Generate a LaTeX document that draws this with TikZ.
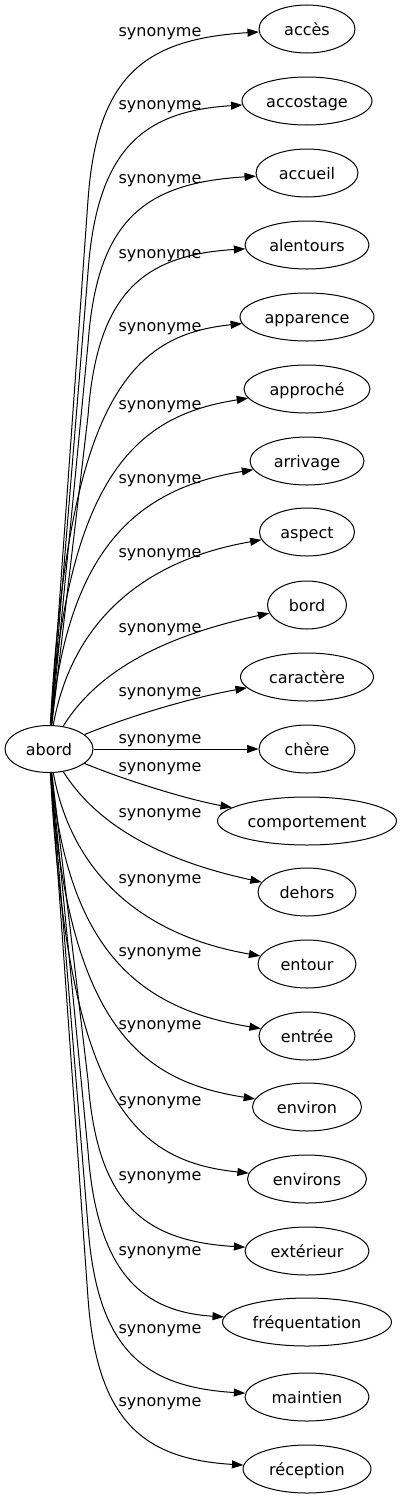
\documentclass[tikz,border=0pt]{standalone}
\usepackage{fontspec}
\setmainfont{DejaVu Sans}
\usetikzlibrary{shapes.geometric,arrows.meta}

\begin{document}
\begin{tikzpicture}[x=1pt, y=-1pt, every node/.style={font=\fontsize{16}{19}\selectfont, text height=12pt, text depth=0pt},
  term/.style={ellipse, draw, line width=1pt, minimum height=48pt, inner sep=0pt},
  syn/.style={line width=1pt, -{Triangle[length=11.4pt,width=8pt]}}]
\useasboundingbox (0,0) rectangle (402,1499);

\node[term, minimum width=88pt, minimum height=47pt] (abord) at (49,749) {abord};

\node[term, minimum width=96pt] (acces) at (307,29) {accès};
\node[term, minimum width=130pt] (accostage) at (307,101) {accostage};
\node[term, minimum width=102pt] (accueil) at (307,173) {accueil};
\node[term, minimum width=124pt] (alentours) at (307,245) {alentours};
\node[term, minimum width=134pt] (apparence) at (307,317) {apparence};
\node[term, minimum width=126pt] (approche) at (307,389) {approché};
\node[term, minimum width=114pt] (arrivage) at (307,461) {arrivage};
\node[term, minimum width=95pt] (aspect) at (307,532) {aspect};
\node[term, minimum width=79pt] (bord) at (307,605) {bord};
\node[term, minimum width=133pt] (caractere) at (307,677) {caractère};
\node[term, minimum width=96pt] (chere) at (307,749) {chère};
\node[term, minimum width=179pt] (comportement) at (307,821) {comportement};
\node[term, minimum width=98pt] (dehors) at (307,892) {dehors};
\node[term, minimum width=98pt] (entour) at (307,964) {entour};
\node[term, minimum width=96pt] (entree) at (307,1036) {entrée};
\node[term, minimum width=109pt] (environ) at (307,1107) {environ};
\node[term, minimum width=119pt] (environs) at (307,1179) {environs};
\node[term, minimum width=124pt] (exterieur) at (307,1251) {extérieur};
\node[term, minimum width=169pt] (frequentation) at (307,1322) {fréquentation};
\node[term, minimum width=124pt] (maintien) at (307,1397) {maintien};
\node[term, minimum width=128pt] (reception) at (307,1469) {réception};

% upper fan, long edges go straight up first
\draw[syn] (abord) -- (88,200) .. controls (97,75) and (145,39) .. (acces);
\draw[syn] (abord) -- (88,272) .. controls (97,147) and (145,111) .. (accostage);
\draw[syn] (abord) -- (88,344) .. controls (97,219) and (145,183) .. (accueil);
\draw[syn] (abord) -- (88,416) .. controls (97,291) and (145,255) .. (alentours);
\draw[syn] (abord) .. controls (68,400) and (130,335) .. (apparence);
\draw[syn] (abord) .. controls (68,470) and (140,415) .. (approche);
\draw[syn] (abord) .. controls (68,545) and (140,488) .. (arrivage);
\draw[syn] (abord) .. controls (72,620) and (145,560) .. (aspect);
\draw[syn] (abord) .. controls (95,675) and (155,638) .. (bord);
\draw[syn] (abord) .. controls (130,716) and (190,698) .. (caractere);
\draw[syn] (abord) -- (chere);
% lower fan
\draw[syn] (abord) .. controls (130,782) and (190,800) .. (comportement);
\draw[syn] (abord) .. controls (95,822) and (155,859) .. (dehors);
\draw[syn] (abord) .. controls (72,876) and (145,936) .. (entour);
\draw[syn] (abord) .. controls (68,952) and (140,1009) .. (entree);
\draw[syn] (abord) .. controls (68,1026) and (140,1081) .. (environ);
\draw[syn] (abord) .. controls (68,1096) and (130,1161) .. (environs);
\draw[syn] (abord) -- (88,1080) .. controls (97,1205) and (145,1241) .. (exterieur);
\draw[syn] (abord) -- (88,1151) .. controls (97,1276) and (145,1312) .. (frequentation);
\draw[syn] (abord) -- (88,1226) .. controls (97,1351) and (145,1387) .. (maintien);
\draw[syn] (abord) -- (88,1298) .. controls (97,1423) and (145,1459) .. (reception);

\node (lacces) at (160,30.5) {synonyme};
\node (laccostage) at (160,103.5) {synonyme};
\node (laccueil) at (160,177.5) {synonyme};
\node (lalentours) at (160,252.5) {synonyme};
\node (lapparence) at (160,325.5) {synonyme};
\node (lapproche) at (160,403) {synonyme};
\node (larrivage) at (160,477.5) {synonyme};
\node (laspect) at (160,551.5) {synonyme};
\node (lbord) at (160,626.5) {synonyme};
\node (lcaractere) at (160,690.5) {synonyme};
\node (lchere) at (160,737) {synonyme};
\node (lcomportement) at (160,765.5) {synonyme};
\node (ldehors) at (160,811.5) {synonyme};
\node (lentour) at (160,877.5) {synonyme};
\node (lentree) at (160,950.5) {synonyme};
\node (lenviron) at (160,1023.5) {synonyme};
\node (lenvirons) at (160,1099.5) {synonyme};
\node (lexterieur) at (160,1174.5) {synonyme};
\node (lfrequentation) at (160,1249.5) {synonyme};
\node (lmaintien) at (160,1327.5) {synonyme};
\node (lreception) at (160,1400.5) {synonyme};
\end{tikzpicture}
\end{document}
